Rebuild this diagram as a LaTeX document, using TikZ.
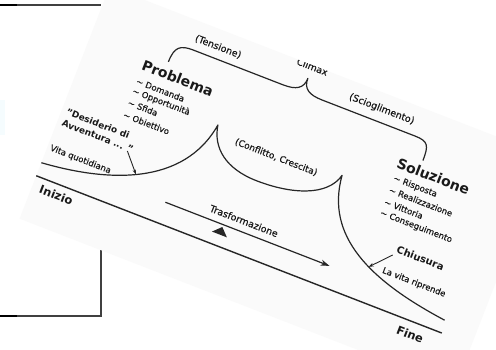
\documentclass[tikz,border=0pt]{standalone}
\usepackage{fontspec}
\setmainfont{DejaVu Sans}
\newfontfamily\medfont[FakeBold=0.6]{DejaVu Sans}
\usetikzlibrary{arrows.meta}
\newcommand{\myfs}[1]{\fontsize{#1}{#1}\selectfont}
\tikzset{
  lbl/.style={inner sep=0pt, text=black!90},
  storyline/.style={draw=black!85, line width=1.2pt, line join=round},
  conn/.style={draw=black!85, line width=0.9pt, -{Stealth[length=5pt,width=3.5pt]}},
  framel/.style={draw=black!75, line width=1.6pt, line join=miter},
}
\begin{document}
\begin{tikzpicture}[x=1pt,y=-1pt]
\useasboundingbox (0,0) rectangle (496,350);
\fill[white] (0,0) rectangle (496,350);
% frame pieces behind the sheet
\draw[framel] (0,5) -- (101,5);
\draw[black, line width=2pt] (0,5) -- (17,5);
\draw[framel] (0,316) -- (101,316) -- (101,250);
\draw[black, line width=2pt] (0,316) -- (17,316);
\fill[cyan!4] (0,100) rectangle (5,135);
\begin{scope}[shift={(250,175)}, rotate=-21.2, transform shape]
  \fill[black!2] (-199,-125) rectangle (268,124);
  \clip (-199,-125) rectangle (268,124);
  % base line
  \draw[storyline, line width=1.4pt] (-199,78) -- (236,78);
  % story curve
  \draw[storyline] (-199,64) .. controls (-130,58) and (-58,34) .. (-48,-35) coordinate[pos=0.47] (desend)
     .. controls (-44,-12) and (-25,3) .. (8,3)
     .. controls (45,3) and (80,-8) .. (86,-33)
     .. controls (92,30) and (150,55) .. (234,65) coordinate[pos=0.58] (chiend);
  % brace
  \draw[storyline] (-117,-76) .. controls (-117,-92) and (-112,-96) .. (-98,-96) -- (-2,-96)
     .. controls (12,-96) and (19,-100) .. (19,-111)
     .. controls (19,-100) and (26,-96) .. (40,-96) -- (140,-96)
     .. controls (154,-96) and (156,-92) .. (156,-76);
  % labels
  \node[lbl, anchor=base, font=\medfont\myfs{9.5}] (climax) at (19,-120) {Climax};
  \node[lbl, font=\medfont\myfs{9.5}] (tens) at (-76,-108) {(Tensione)};
  \node[lbl, font=\medfont\myfs{9.5}] (scio) at (99,-109) {(Scioglimento)};
  \node[lbl, font=\medfont\myfs{9}] (conf) at (18,-26) {(Conflitto, Crescita)};
  \node[lbl, anchor=west, font=\bfseries\myfs{14}] (prob) at (-140,-64) {Problema};
  \node[lbl, anchor=west, font=\medfont\myfs{8.5}] (p1) at (-140,-47) {\textasciitilde{} Domanda};
  \node[lbl, anchor=west, font=\medfont\myfs{8.5}] (p2) at (-140,-36) {\textasciitilde{} Opportunità};
  \node[lbl, anchor=west, font=\medfont\myfs{8.5}] (p3) at (-140,-24) {\textasciitilde{} Sfida};
  \node[lbl, anchor=west, font=\medfont\myfs{8.5}] (p4) at (-140,-11) {\textasciitilde{} Obiettivo};
  \node[lbl, anchor=west, font=\bfseries\myfs{14}] (sol) at (133,-65) {Soluzione};
  \node[lbl, anchor=west, font=\medfont\myfs{8.5}] (s1) at (135,-49) {\textasciitilde{} Risposta};
  \node[lbl, anchor=west, font=\medfont\myfs{8.5}] (s2) at (135,-37) {\textasciitilde{} Realizzazione};
  \node[lbl, anchor=west, font=\medfont\myfs{8.5}] (s3) at (135,-24) {\textasciitilde{} Vittoria};
  \node[lbl, anchor=west, font=\medfont\myfs{8.5}] (s4) at (135,-12) {\textasciitilde{} Conseguimento};
  \node[lbl, anchor=west, font=\bfseries\myfs{9}] (des1) at (-194,7) {"Desiderio di};
  \node[lbl, anchor=west, font=\bfseries\myfs{9}] (des2) at (-194,19) {Avventura ... "};
  \node[lbl, anchor=west, font=\medfont\myfs{8.5}] (vita) at (-196,47) {Vita quotidiana};
  \node[lbl, anchor=west, font=\bfseries\myfs{11.5}] (ini) at (-191,89) {Inizio};
  \node[lbl, font=\bfseries\myfs{11.5}] (fine) at (207,91) {Fine};
  \node[lbl, font=\medfont\myfs{9.5}] (trasf) at (11,45) {Trasformazione};
  \node[lbl, anchor=west, font=\bfseries\myfs{10}] (chiu) at (164,16) {Chiusura};
  \node[lbl, anchor=west, font=\medfont\myfs{8.5}] (ripr) at (158,41) {La vita riprende};
  % connectors
  \coordinate (destail) at (-123,22);
  \draw[conn] (destail) -- (desend);
  \coordinate (chitail) at (162,23);
  \draw[conn] (chitail) -- (chiend);
  \coordinate (trA) at (-69,56);
  \coordinate (trB) at (107,56);
  \draw[storyline, -{Stealth[length=9pt,width=6pt]}] (trA) -- (trB);
  \fill[black!85] (-15,66.5) -- (-7,58.5) -- (1,66.5) -- cycle;
\end{scope}
\end{tikzpicture}
\end{document}
